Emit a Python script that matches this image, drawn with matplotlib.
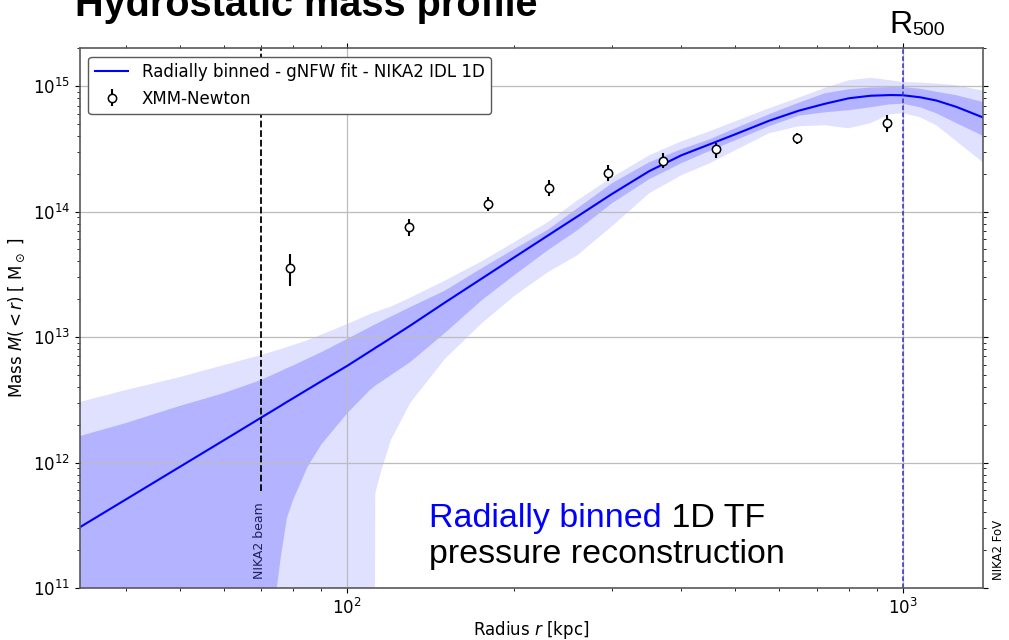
import numpy as np
import matplotlib
matplotlib.use("Agg")
from matplotlib import pyplot as plt

# radius grid of the reconstructed profile [kpc]
r_kpc = [33, 40, 50, 60, 70, 76, 78, 80, 85, 90, 100, 110, 112, 112.5, 115, 120,
         130, 150, 175, 200, 230, 260, 300, 350, 400, 450, 500, 575, 650, 725,
         800, 875, 950, 1000, 1075, 1150, 1250, 1400]

# best fit hydrostatic mass [Msun]
m_fit = [3.03e11, 5.07e11, 9.21e11, 1.50e12, 2.27e12, 2.83e12, 3.04e12, 3.25e12,
         3.82e12, 4.45e12, 5.87e12, 7.68e12, 8.08e12, 8.2e12, 8.70e12, 9.82e12,
         1.233e13, 1.879e13, 2.93e13, 4.31e13, 6.44e13, 9.15e13, 1.382e14, 2.10e14,
         2.81e14, 3.44e14, 4.13e14, 5.29e14, 6.36e14, 7.23e14, 7.99e14, 8.37e14,
         8.48e14, 8.45e14, 8.14e14, 7.67e14, 6.82e14, 5.59e14]

# 68% interval
m_1sig_hi = [1.62e12, 2.06e12, 2.82e12, 3.57e12, 4.54e12, 5.35e12, 5.65e12, 5.92e12,
             6.73e12, 7.58e12, 9.62e12, 1.199e13, 1.251e13, 1.26e13, 1.327e13, 1.454e13,
             1.731e13, 2.34e13, 3.54e13, 5.01e13, 7.17e13, 1.063e14, 1.682e14, 2.47e14,
             3.14e14, 3.77e14, 4.61e14, 5.96e14, 7.36e14, 8.76e14, 9.43e14, 9.73e14,
             9.83e14, 9.83e14, 9.52e14, 9.01e14, 8.45e14, 7.43e14]
m_1sig_lo = [1e9, 1e9, 1e9, 1e9, 1e10, 1.73e11, 3.61e11, 5.02e11,
             9.27e11, 1.398e12, 2.45e12, 3.78e12, 4.03e12, 4.1e12, 4.37e12, 4.97e12,
             6.31e12, 1.074e13, 1.968e13, 3.11e13, 4.92e13, 7.10e13, 1.165e14, 1.81e14,
             2.43e14, 3.05e14, 3.70e14, 4.78e14, 5.80e14, 6.18e14, 6.42e14, 6.78e14,
             7.16e14, 7.23e14, 6.78e14, 6.07e14, 5.06e14, 3.98e14]

# 95% interval
m_2sig_hi = [3.03e12, 3.78e12, 4.79e12, 5.97e12, 7.18e12, 8.01e12, 8.31e12, 8.62e12,
             9.45e12, 1.045e13, 1.267e13, 1.522e13, 1.570e13, 1.58e13, 1.638e13, 1.746e13,
             2.06e13, 2.81e13, 4.02e13, 5.70e13, 8.23e13, 1.231e14, 1.877e14, 2.81e14,
             3.63e14, 4.37e14, 5.24e14, 6.66e14, 8.08e14, 9.69e14, 1.112e15, 1.164e15,
             1.112e15, 1.078e15, 1.066e15, 1.047e15, 1.015e15, 9.17e14]
m_2sig_lo = [1e9, 1e9, 1e9, 1e9, 1e9, 1e9, 1e9, 1e9,
             1e9, 1e9, 1e9, 1e9, 1e9, 5.71e11, 8.24e11, 1.51e12,
             2.98e12, 6.67e12, 1.290e13, 2.12e13, 3.29e13, 4.49e13, 7.64e13, 1.400e14,
             1.948e14, 2.43e14, 3.08e14, 4.21e14, 4.78e14, 4.87e14, 4.61e14, 5.06e14,
             5.96e14, 6.09e14, 5.64e14, 4.87e14, 3.63e14, 2.43e14]

# XMM-Newton hydrostatic mass
r_xmm = [79.1, 129.6, 179.8, 231.4, 294.7, 371.0, 461.6, 644.8, 938.2]
m_xmm = [3.52e13, 7.55e13, 1.159e14, 1.543e14, 2.03e14, 2.52e14, 3.14e14, 3.89e14, 5.08e14]
m_xmm_elo = [0.98e13, 1.15e13, 1.47e13, 2.01e13, 2.76e13, 2.8e13, 4.5e13, 4.1e13, 7.7e13]
m_xmm_ehi = [1.03e13, 1.25e13, 1.50e13, 2.34e13, 3.0e13, 4.1e13, 3.8e13, 3.4e13, 8.5e13]

r_beam = 70.0
r_500 = 1000.0

plt.rcParams["font.size"] = 12

fig = plt.figure(figsize=(10.09, 6.40), dpi=100)
ax = fig.add_axes([0.0793, 0.08125, 0.8949, 0.8433])
ax.set_xscale("log")
ax.set_yscale("log")

ax.fill_between(r_kpc, m_2sig_lo, m_2sig_hi, color="blue", alpha=0.12, lw=0)
ax.fill_between(r_kpc, m_1sig_lo, m_1sig_hi, color="blue", alpha=0.20, lw=0)
ax.plot(r_kpc, m_fit, color="blue", lw=1.5,
        label="Radially binned - gNFW fit - NIKA2 IDL 1D")
ax.errorbar(r_xmm, m_xmm, yerr=[m_xmm_elo, m_xmm_ehi], fmt="o", ms=6,
            mfc="white", mec="black", mew=1.1, ecolor="black", elinewidth=1.5,
            capsize=0, label="XMM-Newton", zorder=5)

ax.axvline(r_beam, ymin=0.18, ymax=1, color="black", ls="--", lw=1.3)
ax.text(r_beam * 0.993, 0.017, "NIKA2 beam", transform=ax.get_xaxis_transform(),
        rotation=90, ha="center", va="bottom", fontsize=9, color="#20205a")
ax.axvline(r_500, color="#3030c8", ls=(0, (3, 1.6)), lw=1.1)
ax.text(1.0175, 0.015, "NIKA2 FoV", transform=ax.transAxes, rotation=90,
        ha="center", va="bottom", fontsize=8.5)

ax.set_xlim(33.1, 1395)
ax.set_ylim(1e11, 2e15)
ax.grid(True, which="major", color="#bcbcbc", lw=0.9)
ax.tick_params(which="both", direction="out", top=True, right=True, labelsize=12)
for s in ax.spines.values():
    s.set_color("0.35")
    s.set_linewidth(1.2)

ax.set_xlabel("Radius $r$ [kpc]", fontsize=12, labelpad=1)
ax.set_ylabel(r"Mass $M(<r)$ [ M$_\odot$ ]", fontsize=12)
leg = ax.legend(loc="upper left", fontsize=12, edgecolor="0.35", framealpha=1)

# annotation in the empty lower right part
t1 = ax.text(0.3867, 0.113, "Radially binned", transform=ax.transAxes,
             fontsize=24.5, color="blue", family="Liberation Sans", va="baseline")
ax.annotate(" 1D TF", xy=(1, 0), xycoords=t1, fontsize=24.5, color="black",
            family="Liberation Sans", va="bottom")
ax.text(0.3867, 0.0463, "pressure reconstruction", transform=ax.transAxes,
        fontsize=24.5, color="black", family="Liberation Sans", va="baseline")

fig.text(75 / 1009, 0.975, "Hydrostatic mass profile", fontsize=28.5,
         fontweight="bold", family="Liberation Sans", va="baseline")
fig.text(889 / 1009, 0.948, "R", fontsize=23, family="Liberation Sans", va="baseline")
fig.text(912.5 / 1009, 0.945, "500", fontsize=14, family="Liberation Sans", va="baseline")

fig.savefig("out.png", dpi=100)
